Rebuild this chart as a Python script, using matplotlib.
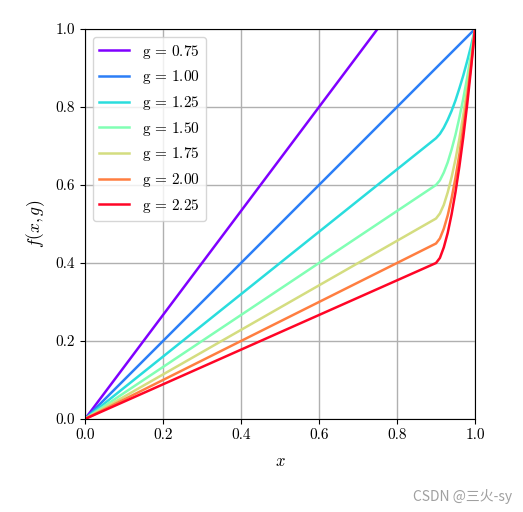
import numpy as np
import matplotlib
matplotlib.use("Agg")
import matplotlib.pyplot as plt

# ==========================================
# DATA
# ==========================================

g_values = [0.75, 1.00, 1.25, 1.50, 1.75, 2.00, 2.25]

x_line = [0.0, 1.0]
f_075 = [0.0, 1.3333]
f_100 = [0.0, 1.0]

x_knee = [0.0, 0.90, 0.91, 0.92, 0.93, 0.94, 0.95, 0.96, 0.97, 0.98, 0.99, 1.00]
f_125 = [0.0, 0.720, 0.731, 0.747, 0.767, 0.790, 0.817, 0.848, 0.881, 0.918, 0.957, 1.0]
f_150 = [0.0, 0.600, 0.612, 0.632, 0.658, 0.691, 0.729, 0.773, 0.822, 0.876, 0.936, 1.0]
f_175 = [0.0, 0.514, 0.527, 0.549, 0.581, 0.620, 0.666, 0.719, 0.780, 0.847, 0.920, 1.0]
f_200 = [0.0, 0.450, 0.463, 0.488, 0.522, 0.566, 0.619, 0.679, 0.748, 0.825, 0.909, 1.0]
f_225 = [0.0, 0.400, 0.413, 0.440, 0.477, 0.525, 0.582, 0.648, 0.723, 0.807, 0.900, 1.0]

series = [
    (x_line, f_075),
    (x_line, f_100),
    (x_knee, f_125),
    (x_knee, f_150),
    (x_knee, f_175),
    (x_knee, f_200),
    (x_knee, f_225),
]

ticks = [0.0, 0.2, 0.4, 0.6, 0.8, 1.0]

# ==========================================
# STYLE
# ==========================================

plt.rcParams["font.family"] = "serif"
plt.rcParams["font.serif"] = ["cmr10"]
plt.rcParams["mathtext.fontset"] = "cm"
plt.rcParams["axes.formatter.use_mathtext"] = True
plt.rcParams["font.size"] = 11

colores = plt.cm.rainbow(np.linspace(0, 1, len(g_values)))
colores[-1] = (1.0, 0.02, 0.15, 1.0)

# ==========================================
# PLOT
# ==========================================

fig = plt.figure(figsize=(5.23, 5.12), dpi=100)
ax = fig.add_axes([85 / 523, 93 / 512, 390 / 523, 390 / 512])

for (xs, ys), g, c in zip(series, g_values, colores):
    ax.plot(xs, ys, color=c, linewidth=1.8,
            label=r"$\mathrm{g}\,=\,%.2f$" % g)

ax.set_xlim(0, 1)
ax.set_ylim(0, 1)
ax.set_xticks(ticks)
ax.set_yticks(ticks)
ax.set_xticklabels([f"{t:.1f}" for t in ticks])
ax.set_yticklabels([f"{t:.1f}" for t in ticks])
ax.grid(True, color="#b0b0b0", linewidth=1.0)
ax.set_axisbelow(True)

ax.set_xlabel(r"$x$", fontsize=12, labelpad=8)
ax.set_ylabel(r"$f(x,g)$", fontsize=12.5, labelpad=6)

ax.legend(loc="upper left", fontsize=11, handlelength=2.0)

fig.text(0.98, 0.03, "CSDN @三火-sy", ha="right", va="center",
         color="#a0a0a0", fontsize=10,
         family=["Noto Sans CJK SC", "DejaVu Sans"])

fig.savefig("out.png", dpi=100)
